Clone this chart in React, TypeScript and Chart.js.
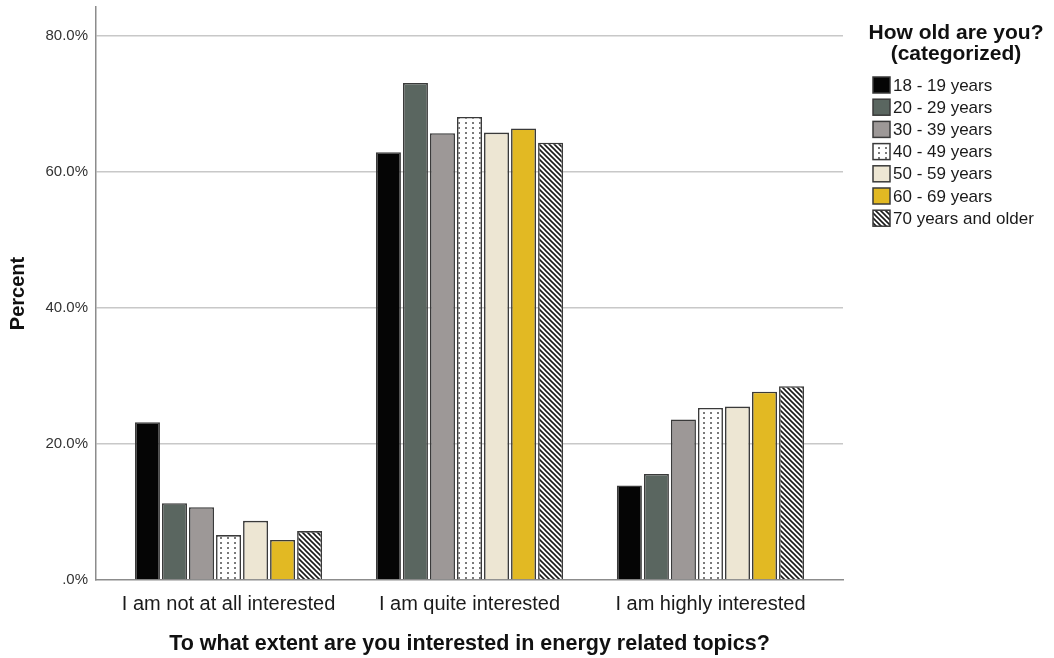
import React, { useEffect, useRef } from 'react';
import { Chart, registerables } from 'chart.js';

Chart.register(...registerables);

const categories = ['I am not at all interested', 'I am quite interested', 'I am highly interested'];
const ageGroups = ['18 - 19 years', '20 - 29 years', '30 - 39 years', '40 - 49 years', '50 - 59 years', '60 - 69 years', '70 years and older'];
const age18to19 = [23.2, 62.9, 13.9];
const age20to29 = [11.3, 73.1, 15.6];
const age30to39 = [10.7, 65.7, 23.6];
const age40to49 = [6.6, 68.1, 25.3];
const age50to59 = [8.7, 65.8, 25.5];
const age60to69 = [5.9, 66.4, 27.7];
const age70plus = [7.2, 64.3, 28.5];
const yTicks = [0, 20, 40, 60, 80];
const legendTitle = ['How old are you?', '(categorized)'];
const xTitle = 'To what extent are you interested in energy related topics?';
const yTitle = 'Percent';

const FONT = 'Arial, "Liberation Sans", sans-serif';

function makeDots(): CanvasPattern | string {
  const c = document.createElement('canvas');
  c.width = 7; c.height = 5;
  const g = c.getContext('2d');
  if (!g) return '#fff';
  g.fillStyle = '#ffffff';
  g.fillRect(0, 0, 7, 5);
  g.fillStyle = '#7a7a7a';
  g.fillRect(3, 2, 2, 2);
  return g.createPattern(c, 'repeat') || '#fff';
}

function makeHatch(): CanvasPattern | string {
  const s = 5;
  const c = document.createElement('canvas');
  c.width = s; c.height = s;
  const g = c.getContext('2d');
  if (!g) return '#fff';
  g.fillStyle = '#ffffff';
  g.fillRect(0, 0, s, s);
  g.strokeStyle = '#1a1a1a';
  g.lineWidth = 1.6;
  g.beginPath();
  g.moveTo(-1, -1); g.lineTo(s + 1, s + 1);
  g.moveTo(-1, s - 1); g.lineTo(1, s + 1);
  g.moveTo(s - 1, -1); g.lineTo(s + 1, 1);
  g.stroke();
  return g.createPattern(c, 'repeat') || '#fff';
}

export default function App() {
  const ref = useRef<HTMLCanvasElement | null>(null);

  useEffect(() => {
    const canvas = ref.current;
    if (!canvas) return;
    const series = [age18to19, age20to29, age30to39, age40to49, age50to59, age60to69, age70plus];
    const fills: (string | CanvasPattern)[] = ['#050505', '#5a6660', '#9d9897', makeDots(), '#ede6d3', '#e2b923', makeHatch()];

    const legendPlugin = {
      id: 'customLegend',
      afterDraw(chart: any) {
        const ctx = chart.ctx as CanvasRenderingContext2D;
        ctx.save();
        ctx.fillStyle = '#111';
        ctx.font = `bold 21px ${FONT}`;
        ctx.textAlign = 'center';
        ctx.textBaseline = 'middle';
        legendTitle.forEach((t, i) => ctx.fillText(t, 956, 33 + i * 21.5));
        chart.data.datasets.forEach((ds: any, i: number) => {
          const y = 85 + i * 22.2;
          ctx.fillStyle = ds.backgroundColor;
          ctx.fillRect(873, y - 8, 17, 16);
          ctx.strokeStyle = '#3a3a3a';
          ctx.lineWidth = 1.5;
          ctx.strokeRect(873, y - 8, 17, 16);
          ctx.fillStyle = '#1a1a1a';
          ctx.font = `17px ${FONT}`;
          ctx.textAlign = 'left';
          ctx.fillText(ds.label, 893, y + 1);
        });
        ctx.restore();
      },
    };

    const chart = new Chart(canvas, {
      type: 'bar',
      data: {
        datasets: series.map((arr, si) => ({
          label: ageGroups[si],
          data: categories.map((_, i) => ({ x: i, y: arr[i] })),
          backgroundColor: fills[si],
          borderColor: '#3a3a3a',
          borderWidth: 1.6,
          categoryPercentage: 0.785,
          barPercentage: 0.925,
        })),
      },
      options: {
        responsive: false,
        animation: false,
        layout: { padding: { left: 0, top: 7, right: 211, bottom: 0 } },
        plugins: { legend: { display: false }, tooltip: { enabled: false } },
        scales: {
          x: {
            type: 'linear',
            offset: false,
            min: -0.55,
            max: 2.55,
            afterBuildTicks: (scale: any) => { scale.ticks = categories.map((_, i) => ({ value: i })); },
            afterFit: (scale: any) => { scale.height = 78; scale.paddingLeft = 0; scale.paddingRight = 0; },
            grid: { display: false, offset: false },
            border: { display: true, color: '#8c8c8c', width: 1.5 },
            ticks: {
              autoSkip: false,
              maxRotation: 0,
              padding: 4,
              color: '#1a1a1a',
              font: { family: FONT, size: 20 },
              callback: (v: any) => categories[Number(v)] ?? '',
            },
            title: {
              display: true,
              text: xTitle,
              color: '#111',
              font: { family: FONT, size: 21.5, weight: 'bold' },
              padding: { top: 1, bottom: 1 },
            },
          },
          y: {
            min: 0,
            max: 84.26,
            afterBuildTicks: (scale: any) => { scale.ticks = yTicks.map((v) => ({ value: v })); },
            afterFit: (scale: any) => { scale.width = 96; scale.paddingTop = 0; scale.paddingBottom = 0; },
            grid: {
              drawTicks: false,
              color: (c: any) => (c.tick && c.tick.value === 0 ? 'rgba(0,0,0,0)' : '#c8c8c8'),
              lineWidth: 1.5,
            },
            border: { display: true, color: '#8c8c8c', width: 1.5 },
            ticks: {
              padding: 8,
              color: '#333',
              font: { family: FONT, size: 15 },
              callback: (v: any) => (Number(v) === 0 ? '.0%' : Number(v).toFixed(1) + '%'),
            },
            title: {
              display: true,
              text: yTitle,
              color: '#111',
              font: { family: FONT, size: 20, weight: 'bold' },
              padding: { top: 6, bottom: 6 },
            },
          },
        },
      },
      plugins: [legendPlugin],
    } as any);

    return () => chart.destroy();
  }, []);

  return (
    <div style={{ position: 'fixed', left: 0, top: 0, width: 1054, height: 658, background: '#fff' }}>
      <canvas ref={ref} width={1054} height={658} style={{ display: 'block' }} />
    </div>
  );
}
